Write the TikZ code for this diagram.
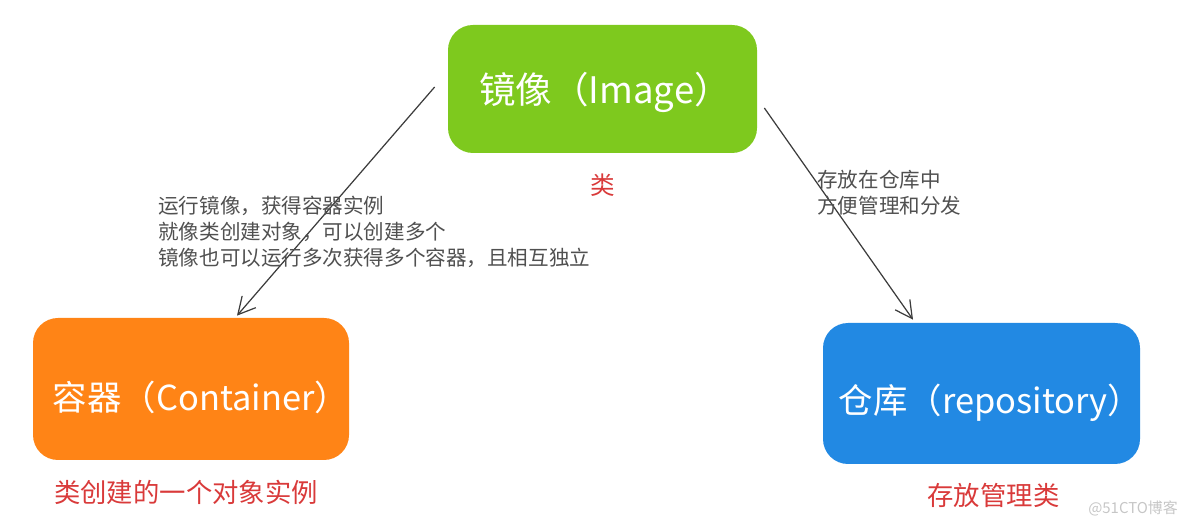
\documentclass[tikz,border=0pt]{standalone}
\usepackage{fontspec}
\setmainfont{Noto Sans CJK SC}
\usetikzlibrary{positioning,calc,arrows.meta}
\definecolor{imggreen}{HTML}{7EC91E}
\definecolor{ctorange}{HTML}{FF8416}
\definecolor{repoblue}{HTML}{2289E3}
\definecolor{notered}{HTML}{D93A3A}
\definecolor{linegray}{HTML}{3C3C3C}
% #1 down, #2 right, #3 text
\newcommand{\boxtext}[3]{\raisebox{-#1}[\height][\depth]{\makebox[0pt]{\hspace{#2}#3}}}
\tikzset{
  box/.style={rounded corners=0.5cm, text=white, inner sep=0pt,
    font=\fontsize{19.6}{24}\selectfont},
  note/.style={text=notered, inner sep=0pt, font=\fontsize{15}{18}\selectfont},
  remark/.style={text=linegray!90, inner sep=0pt, align=left,
    font=\fontsize{11.7}{14.7}\selectfont},
}
\begin{document}
\begin{tikzpicture}[>={Straight Barb[length=3.4mm,width=3.6mm]}]
  \useasboundingbox (0, 0) rectangle (23.68, -10.52);

  % the three boxes
  \node[box, fill=imggreen, minimum width=6.18cm, minimum height=2.56cm,
    font=\fontsize{20.8}{24}\selectfont]
    (image) at (12.05, -1.78) {\boxtext{0.06cm}{0.1cm}{镜像（Image）}};
  \node[box, fill=ctorange, minimum width=6.32cm, minimum height=2.84cm]
    (container) at (3.82, -7.78) {\boxtext{0.17cm}{0.4cm}{容器（Container）}};
  \node[box, fill=repoblue, minimum width=6.34cm, minimum height=2.82cm]
    (repo) at (19.63, -7.87) {\boxtext{0.19cm}{0.36cm}{仓库（repository）}};

  % red notes
  \node[note, font=\fontsize{14}{16}\selectfont, below=0.4cm of image] (imgnote) {类};
  \node[note, below=0.38cm of container, xshift=-0.1cm] (ctnote) {类创建的一个对象实例};
  \node[note, below=0.38cm of repo, xshift=0.24cm] (reponote) {存放管理类};

  % arrows
  \draw[->, linegray, line width=0.7pt]
    ($(image.west)+(-0.26,0.04)$) -- ($(container.north)+(0.92,0.04)$);
  \draw[->, linegray, line width=0.7pt]
    ($(image.east)+(0.14,-0.38)$) -- ($(repo.north)+(-1.37,0.06)$);

  \node[remark, anchor=north west] (runnote) at (3.16, -3.92)
    {运行镜像，获得容器实例\\就像类创建对象，可以创建多个\\镜像也可以运行多次获得多个容器，且相互独立};
  \node[remark, anchor=north west] (storenote) at (16.34, -3.4)
    {存放在仓库中\\方便管理和分发};

  \node[text=gray!45, inner sep=0pt, font=\fontsize{8.5}{10}\selectfont]
    (mark) at (22.66, -10.16) {@51CTO博客};
\end{tikzpicture}
\end{document}
